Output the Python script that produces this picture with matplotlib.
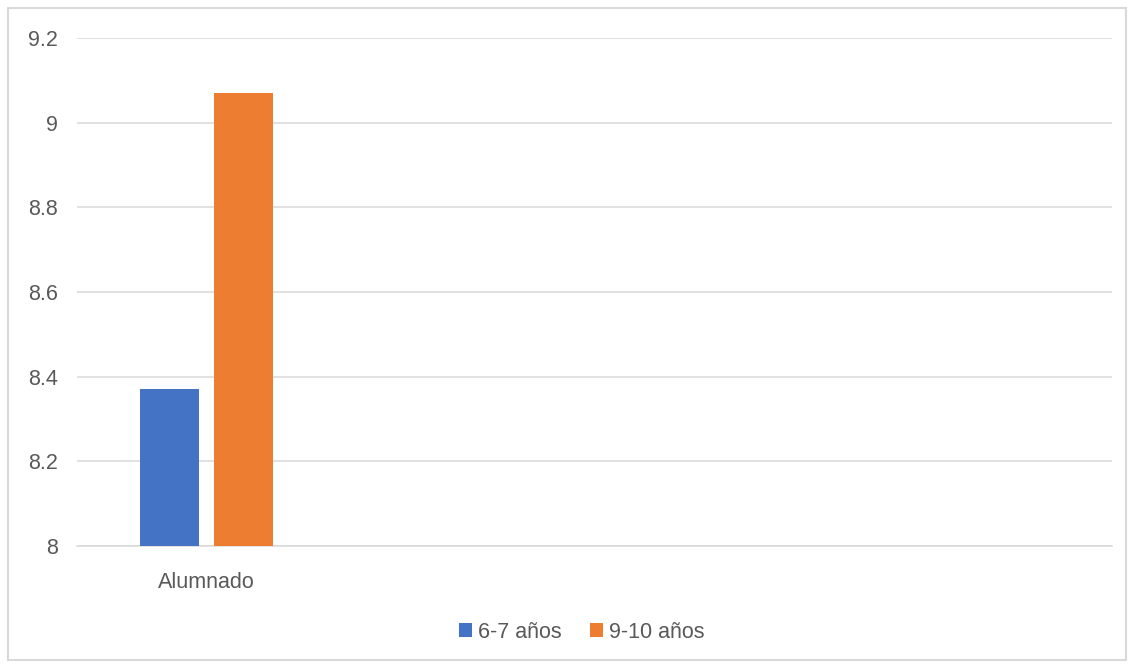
import numpy as np
import matplotlib.pyplot as plt
from matplotlib.patches import Rectangle

# --- Data ---
categories = ["Alumnado", "", "", ""]
grupo_6_7  = [8.37, np.nan, np.nan, np.nan]
grupo_9_10 = [9.07, np.nan, np.nan, np.nan]
series_labels = ["6-7 años", "9-10 años"]
y_ticks = [8.0, 8.2, 8.4, 8.6, 8.8, 9.0, 9.2]
y_tick_labels = ["8", "8.2", "8.4", "8.6", "8.8", "9", "9.2"]

# --- Style ---
blue = "#4472C4"
orange = "#ED7D31"
grid_color = "#D9D9D9"
text_color = "#595959"
plt.rcParams["font.family"] = ["Liberation Sans", "DejaVu Sans"]

fig = plt.figure(figsize=(11.34, 6.66), dpi=100)
ax = fig.add_axes([77 / 1134, 1 - 546 / 666, (1112 - 77) / 1134, (546 - 38) / 666])

x = np.arange(len(categories))
width = 0.228
offset = 0.143
ax.bar(x - offset, grupo_6_7,  width, color=blue,   label=series_labels[0], zorder=3)
ax.bar(x + offset, grupo_9_10, width, color=orange, label=series_labels[1], zorder=3)

ax.set_xlim(-0.5, len(categories) - 0.5)
ax.set_ylim(8.0, 9.2)
ax.set_yticks(y_ticks)
ax.set_yticklabels(y_tick_labels)
ax.set_xticks(x)
ax.set_xticklabels(categories)

ax.grid(True, axis="y", color=grid_color, lw=1.1, zorder=0)
for side in ["top", "right", "left"]:
    ax.spines[side].set_visible(False)
ax.spines["bottom"].set_color(grid_color)
ax.spines["bottom"].set_linewidth(1.1)
ax.tick_params(axis="both", length=0, labelsize=15.5, labelcolor=text_color)
ax.tick_params(axis="y", pad=14)
ax.tick_params(axis="x", pad=19)

leg = fig.legend(loc="center", bbox_to_anchor=(582 / 1134, 1 - 632 / 666), ncol=2,
                 frameon=False, fontsize=15.5, handlelength=0.6, handleheight=0.6,
                 handletextpad=0.3, columnspacing=1.3)
for t in leg.get_texts():
    t.set_color(text_color)

# outer chart frame
fig.patches.append(Rectangle((8 / 1134, 6 / 666), 1118 / 1134, 652 / 666,
                             transform=fig.transFigure, fill=False,
                             edgecolor=grid_color, lw=1.5))

fig.savefig("out.png", dpi=100)
plt.close(fig)
